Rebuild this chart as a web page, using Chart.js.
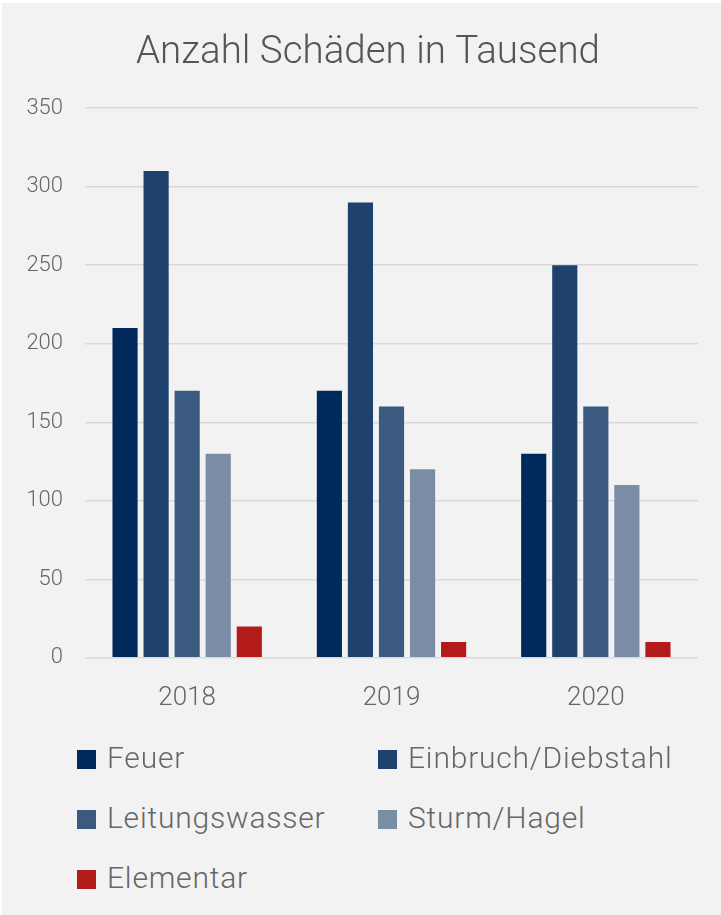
<!DOCTYPE html>
<html lang="de">
<head>
<meta charset="utf-8">
<title>Anzahl Schäden in Tausend</title>
<script src="https://cdn.jsdelivr.net/npm/chart.js@4"></script>
<style>
  html, body { margin: 0; padding: 0; background: #ffffff; }
  #panel {
    position: absolute; left: 2px; top: 3px; width: 719px; height: 912px;
    background: #f2f2f2;
  }
  #chartWrap { position: absolute; left: 0; top: 0; width: 719px; height: 745px; }
  #legend {
    position: absolute; left: 75px; top: 730px; width: 640px;
    font-family: Roboto, "Noto Sans", sans-serif; font-weight: 300;
    font-size: 30px; letter-spacing: 0.8px; color: #666666;
  }
  .item { position: absolute; height: 50px; line-height: 50px; white-space: nowrap; }
  .box { display: inline-block; width: 19px; height: 19px; margin-right: 11px; vertical-align: -1px; }
</style>
</head>
<body>
<div id="panel">
  <div id="chartWrap"><canvas id="chart"></canvas></div>
  <div id="legend"></div>
</div>
<script>
// ==========================================
// Data
// ==========================================
const years = ['2018', '2019', '2020'];
const seriesNames = ['Feuer', 'Einbruch/Diebstahl', 'Leitungswasser', 'Sturm/Hagel', 'Elementar'];
const feuer = [210, 170, 130];
const einbruch = [310, 290, 250];
const leitungswasser = [170, 160, 160];
const sturmHagel = [130, 120, 110];
const elementar = [20, 10, 10];
const seriesColors = ['#002a5c', '#1f416e', '#3a5a80', '#7a8ca6', '#b31b1b'];

const seriesValues = [feuer, einbruch, leitungswasser, sturmHagel, elementar];
const textColor = '#666666';
const fontFamily = 'Roboto, "Noto Sans", sans-serif';

// ==========================================
// Chart
// ==========================================
const datasets = seriesNames.map((name, i) => ({
  label: name,
  data: seriesValues[i],
  backgroundColor: seriesColors[i],
  borderWidth: 0,
  barPercentage: 0.81,
  categoryPercentage: 0.76
}));

// the original title sits a bit right of the canvas centre
const titleShift = {
  id: 'titleShift',
  afterLayout(chart) {
    if (chart.titleBlock) chart.titleBlock.left += 34;
  }
};

const chart = new Chart(document.getElementById('chart').getContext('2d'), {
  type: 'bar',
  data: { labels: years, datasets: datasets },
  plugins: [titleShift],
  options: {
    responsive: true,
    maintainAspectRatio: false,
    animation: false,
    layout: { padding: { left: 2, right: 23, top: 0, bottom: 9 } },
    plugins: {
      legend: { display: false },
      tooltip: { enabled: false },
      title: {
        display: true,
        text: 'Anzahl Schäden in Tausend',
        color: '#555555',
        font: { family: fontFamily, size: 38.5, weight: 300 },
        padding: { top: 27, bottom: 32 }
      }
    },
    scales: {
      x: {
        grid: { display: false, drawTicks: false },
        border: { display: false },
        ticks: {
          color: textColor,
          padding: 25,
          font: { family: fontFamily, size: 26, weight: 300 }
        }
      },
      y: {
        min: 0,
        max: 350,
        grid: { color: '#d9d9d9', lineWidth: 1.5, drawTicks: false },
        border: { display: false },
        // fixed axis width so the plot starts where the original does
        afterFit: function (scale) { scale.width = 81; },
        ticks: {
          stepSize: 50,
          color: textColor,
          padding: 22,
          font: { family: fontFamily, size: 22, weight: 300 }
        }
      }
    }
  }
});

// ==========================================
// Legend (two columns, built from the datasets)
// ==========================================
const legendEl = document.getElementById('legend');
chart.data.datasets.forEach((ds, i) => {
  const item = document.createElement('div');
  item.className = 'item';
  item.style.left = (i % 2) * 301 + 'px';
  item.style.top = Math.floor(i / 2) * 60 + 'px';
  const box = document.createElement('span');
  box.className = 'box';
  box.style.background = ds.backgroundColor;
  item.appendChild(box);
  item.appendChild(document.createTextNode(ds.label));
  legendEl.appendChild(item);
});
</script>
</body>
</html>
